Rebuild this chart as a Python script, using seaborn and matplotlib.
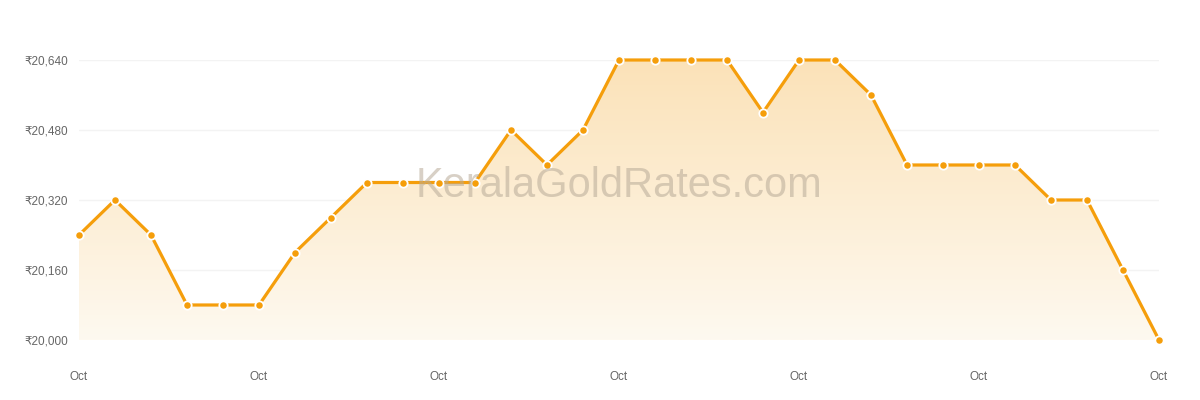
import numpy as np
import pandas as pd
import seaborn as sns
import matplotlib.pyplot as plt
from matplotlib.colors import LinearSegmentedColormap
from matplotlib.ticker import FuncFormatter

# Gold rate per day (October)
days = list(range(1, 32))
rates = [20240, 20320, 20240, 20080, 20080, 20080, 20200, 20280, 20360, 20360,
         20360, 20360, 20480, 20400, 20480, 20640, 20640, 20640, 20640, 20520,
         20640, 20640, 20560, 20400, 20400, 20400, 20400, 20320, 20320, 20160,
         20000]
tick_days = [1, 6, 11, 16, 21, 26, 31]
tick_labels = ['Oct'] * len(tick_days)
y_ticks = [20000, 20160, 20320, 20480, 20640]

df = pd.DataFrame({'day': days, 'rate': rates})

sns.set_style('white')
plt.rcParams['font.family'] = ['Liberation Sans', 'DejaVu Sans']

line_color = '#F59E0B'

fig = plt.figure(figsize=(12, 4), dpi=100)
ax = fig.add_axes([79 / 1200, 60 / 400, 1080 / 1200, 280 / 400])

ax.set_xlim(df['day'].min(), df['day'].max())
ax.set_ylim(y_ticks[0], y_ticks[-1])

# gradient area under the line
poly = ax.fill_between(df['day'], df['rate'], y_ticks[0], color='none', lw=0)
cmap = LinearSegmentedColormap.from_list('g', ['#FEF9F0', '#FBE2B8'])
grad = np.linspace(0, 1, 256).reshape(-1, 1)
img = ax.imshow(grad, cmap=cmap, aspect='auto', origin='lower',
                extent=[df['day'].min(), df['day'].max(), y_ticks[0], y_ticks[-1]],
                zorder=1)
img.set_clip_path(poly.get_paths()[0], transform=ax.transData)

sns.lineplot(data=df, x='day', y='rate', ax=ax, color=line_color, lw=2.3,
             marker='o', markersize=6, markerfacecolor=line_color,
             markeredgecolor='white', markeredgewidth=1.3, zorder=3, clip_on=False)

ax.text(0.5, 0.55, 'KeralaGoldRates.com', transform=ax.transAxes,
        ha='center', va='center', fontsize=30, color='#b8ab98', alpha=0.55, zorder=4)

ax.set_yticks(y_ticks)
ax.yaxis.set_major_formatter(FuncFormatter(lambda v, p: '₹{:,.0f}'.format(v)))
ax.set_xticks(tick_days)
ax.set_xticklabels(tick_labels)
ax.tick_params(axis='both', length=0, labelsize=8.5, labelcolor='#666666')
ax.tick_params(axis='x', pad=22)
ax.tick_params(axis='y', pad=8)
ax.grid(axis='y', color='#f3f3f3', lw=1)
ax.set_axisbelow(True)
ax.set_xlabel('')
ax.set_ylabel('')
for s in ax.spines.values():
    s.set_visible(False)

fig.savefig('out.png', dpi=100)
